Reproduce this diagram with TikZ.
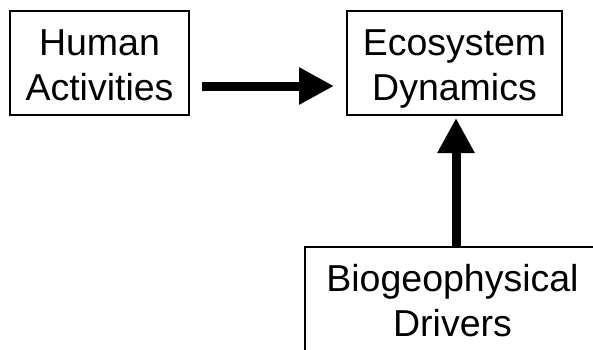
\documentclass[tikz,border=0pt]{standalone}
\usepackage{fontspec}
\setmainfont{Liberation Sans}
\usetikzlibrary{arrows.meta,shapes}
\newcommand{\twolines}[2]{\rule{0pt}{37pt}#1\\#2\vphantom{y}}
\tikzstyle{txt}=[rectangle,minimum height=104pt,align=center,inner sep=0pt,font=\fontsize{37.5}{45}\selectfont]
\tikzstyle{box}=[txt,draw=black,line width=2pt]
\tikzstyle{frame}=[draw=black,line width=2pt]
\tikzstyle{bigarrow}=[line width=9pt,-{Triangle[length=35pt,width=35pt]}]

\begin{document}
\begin{tikzpicture}[x=1pt,y=-1pt]
          \useasboundingbox (0,0) rectangle (593,349);

          \node[box,minimum width=179pt] (hum) at (99.5,63) {\twolines{Human}{Activities}};

          \node[box,minimum width=215pt] (eco) at (454.5,63) {\twolines{Ecosystem}{Dynamics}};
          \draw[bigarrow,shorten <=12pt,shorten >=12pt] ([yshift=-23pt]hum.east) -- ([yshift=-23pt]eco.west);

          % open box, runs off the page to the right and bottom
          \node[txt,minimum width=295pt] (bio) at (452.5,299) {\twolines{Biogeophysical}{Drivers}};
          \draw[frame] ([yshift=-4pt]bio.south west) -- (bio.north west) -- ([xshift=-7pt]bio.north east);
          \draw[bigarrow,shorten >=2pt] ([xshift=3.5pt]bio.north) -- ([xshift=3.5pt]bio.north |- eco.south);
        \end{tikzpicture}
\end{document}
